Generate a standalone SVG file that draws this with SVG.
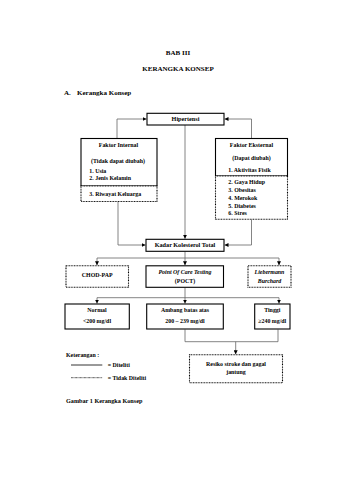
<svg xmlns="http://www.w3.org/2000/svg" width="339" height="480" viewBox="0 0 339 480">
<style>
text{font-family:"Liberation Serif","Times New Roman",serif;fill:#000}
.t{font-size:7px;font-weight:bold}
.b{font-size:5.9px;font-weight:bold}
.r{font-size:5.9px;font-weight:bold}
.m{text-anchor:middle}
.i{font-style:italic}
.solid{fill:#fff;stroke:#000;stroke-width:1.1}
.dot{fill:#fff;stroke:#000;stroke-width:1.1;stroke-dasharray:0.9 0.7}
.c{fill:none;stroke:#666;stroke-width:0.8}
</style>
<defs>
<marker id="ah" viewBox="0 0 6 6" refX="6" refY="3" markerWidth="4" markerHeight="4" orient="auto" markerUnits="userSpaceOnUse">
<path d="M0,0 L6,3 L0,6 Z" fill="#000"/>
</marker>
</defs>
<rect width="339" height="480" fill="#fff"/>
<text class="t m" x="178" y="55">BAB III</text>
<text class="t m" x="178" y="71">KERANGKA KONSEP</text>
<text class="t" x="64" y="94.5">A.</text>
<text class="t" x="77" y="94.5">Kerangka Konsep</text>

<g id="connectors">
<path class="c" d="M117,138.5 V119 H146.5" marker-end="url(#ah)"/>
<path class="c" d="M251.5,138.5 V119 H224.5" marker-end="url(#ah)"/>
<path class="c" d="M185,125 V238.8" marker-end="url(#ah)"/>
<path class="c" d="M118,201.5 V245 H145.5" marker-end="url(#ah)"/>
<path class="c" d="M251.5,219.5 V245 H224.5" marker-end="url(#ah)"/>
<path class="c" d="M185,251.5 V265.3" marker-end="url(#ah)"/>
<path class="c" d="M97,258 H279"/>
<path class="c" d="M97,258 V265.3" marker-end="url(#ah)"/>
<path class="c" d="M279,258 V265.3" marker-end="url(#ah)"/>
<path class="c" d="M185,287.5 V303.6" marker-end="url(#ah)"/>
<path class="c" d="M97,297.7 H279"/>
<path class="c" d="M97,297.7 V303.6" marker-end="url(#ah)"/>
<path class="c" d="M279,297.7 V303.6" marker-end="url(#ah)"/>
<path class="c" d="M185,329.5 V341.7 H278 V329.5"/>
<path class="c" d="M235.7,341.7 V354.3" marker-end="url(#ah)"/>
</g>

<g id="hipertensi">
<rect class="solid" x="147" y="113.3" width="77" height="11.7"/>
<text class="b m" x="185.5" y="121.3" style="font-size:6.2px">Hipertensi</text>
</g>

<g id="faktor-internal">
<rect class="solid" x="81" y="138.5" width="76" height="47.5"/>
<rect class="dot" x="81" y="186" width="76" height="15.5"/>
<text class="b m" x="118.5" y="146.8">Faktor Internal</text>
<text class="r m" x="118" y="163.2">(Tidak dapat diubah)</text>
<text class="r" x="89.3" y="172.7">1.  Usia</text>
<text class="r" x="89.3" y="179.7">2.  Jenis Kelamin</text>
<text class="b" x="89.3" y="195.7">3.  Riwayat Keluarga</text>
</g>

<g id="faktor-eksternal">
<rect class="solid" x="215.5" y="138.5" width="72" height="37.5"/>
<rect class="dot" x="215.5" y="176" width="72" height="43.3"/>
<text class="b m" x="251.5" y="146.8">Faktor Eksternal</text>
<text class="r m" x="251.5" y="159.5">(Dapat diubah)</text>
<text class="b" x="228.3" y="172.2">1.  Aktivitas Fisik</text>
<text class="b" x="228.3" y="183.9">2. Gaya Hidup</text>
<text class="b" x="228.3" y="191.5">3. Obesitas</text>
<text class="b" x="228.3" y="199.5">4. Merokok</text>
<text class="b" x="228.3" y="207.5">5. Diabetes</text>
<text class="b" x="228.3" y="215.2">6. Stres</text>
</g>

<g id="kadar">
<rect class="solid" x="146" y="239.3" width="78" height="12"/>
<text class="b m" x="185" y="247.4" style="font-size:6.2px">Kadar Kolesterol Total</text>
</g>

<g id="chod-pap">
<rect class="dot" x="66" y="265.8" width="62.5" height="21.5"/>
<text class="b m" x="97.2" y="277.3">CHOD-PAP</text>
</g>

<g id="poct">
<rect class="solid" x="146" y="265.8" width="77.5" height="21.5"/>
<text class="b m i" x="185" y="274.2">Point Of Care Testing</text>
<text class="b m" x="185" y="282.9">(POCT)</text>
</g>

<g id="liebermann">
<rect class="dot" x="248" y="265.8" width="43" height="21.5"/>
<text class="b m i" x="269.5" y="274.2">Liebermann</text>
<text class="b m i" x="269.5" y="283.2">Burchard</text>
</g>

<g id="normal">
<rect class="solid" x="65" y="304" width="64.3" height="25"/>
<text class="r m" x="97" y="312.2">Normal</text>
<text class="r m" x="97" y="323.2">&lt;200 mg/dl</text>
</g>

<g id="ambang">
<rect class="solid" x="146.7" y="304" width="76.6" height="25"/>
<text class="r m" x="185" y="312.2">Ambang batas atas</text>
<text class="b m" x="185" y="323.2">200 – 239 mg/dl</text>
</g>

<g id="tinggi">
<rect class="solid" x="254.7" y="304" width="35.3" height="25"/>
<text class="r m" x="272.3" y="312.2">Tinggi</text>
<text class="b m" x="272.3" y="323.2">≥240 mg/dl</text>
</g>

<g id="resiko">
<rect class="dot" x="189.5" y="354.7" width="93" height="28"/>
<text class="b m" x="236" y="365.5">Resiko stroke dan gagal</text>
<text class="b m" x="236" y="374.2">jantung</text>
</g>

<g id="legend">
<text class="b" x="66" y="356.5">Keterangan :</text>
<line x1="71" y1="365" x2="102.3" y2="365" stroke="#000" stroke-width="0.8"/>
<text class="b" x="107.7" y="367">= Diteliti</text>
<line x1="71" y1="377.7" x2="102.3" y2="377.7" stroke="#000" stroke-width="0.8" stroke-dasharray="0.8 0.5"/>
<text class="b" x="107.7" y="379.7">= Tidak Diteliti</text>
</g>
<text class="b" x="66" y="403" style="font-size:6.2px">Gambar 1 Kerangka Konsep</text>
</svg>
